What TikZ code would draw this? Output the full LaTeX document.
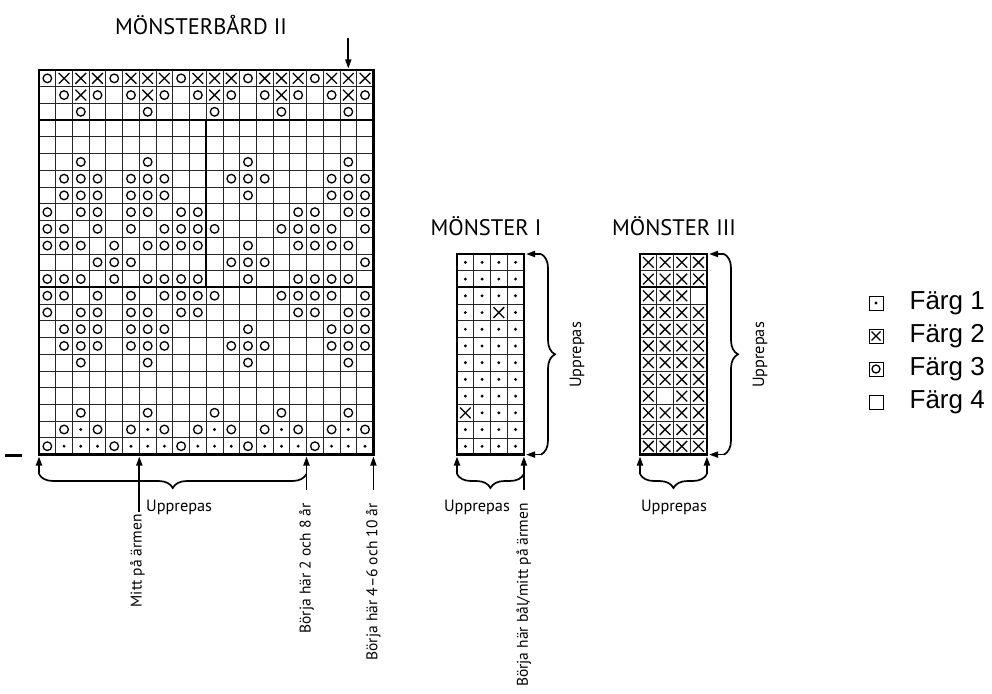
\documentclass[tikz,border=0pt]{standalone}
\usepackage{fontspec}
\setsansfont{PT Sans}
\newfontfamily\legendfont{Liberation Sans}
\usetikzlibrary{arrows.meta, positioning, decorations.pathreplacing}
\tikzset{
  every picture/.style={font=\sffamily},
  gridline/.style={line width=0.8pt, black!85},
  border/.style={line width=2.6pt},
  divider/.style={line width=1.9pt},
  arrow/.style={-{Triangle[length=9pt, width=6pt]}, line width=1.7pt},
  bracket/.style={decorate, decoration={brace, amplitude=14pt}, line width=1.7pt},
  sym/.style={line width=1.3pt},
  title/.style={font=\sffamily\fontsize{22.5}{27}\selectfont},
  note/.style={font=\sffamily\fontsize{16.3}{20}\selectfont, inner sep=0pt},
  vnote/.style={note, font=\sffamily\fontsize{15.5}{19}\selectfont, rotate=90, anchor=east},
  keybox/.style={draw, line width=0.8pt, minimum size=14pt, inner sep=0pt},
  keytext/.style={font=\legendfont\fontsize{26}{30}\selectfont, inner sep=0pt},
}
\newcommand\cellO[2]{\draw[sym] (#1-0.5,#2-0.5) circle (4.3pt);}
\newcommand\cellX[2]{\draw[sym] (#1-0.82,#2-0.82) -- (#1-0.18,#2-0.18) (#1-0.82,#2-0.18) -- (#1-0.18,#2-0.82);}
\newcommand\cellD[2]{\fill (#1-0.5,#2-0.5) circle (1.6pt);}

\begin{document}
\begin{tikzpicture}[x=1pt, y=-1pt]
  \useasboundingbox (0,0) rectangle (992,693);
  % titles
  \node[title] (tII) at (201,25) {MÖNSTERBÅRD II};
  \node[title] (tI) at (486,226) {MÖNSTER I};
  \node[title] (tIII) at (674,226) {MÖNSTER III};

  % Mönsterbård II: 20 x 23 squares
  \begin{scope}[shift={(39,70)}, x=16.72pt, y=-16.72pt]
    \foreach \c in {1,...,19} \draw[gridline] (\c,0) -- (\c,23);
    \foreach \r in {1,...,22} \draw[gridline] (0,\r) -- (20,\r);
    \draw[divider] (0,3) -- (20,3) (0,13) -- (20,13) (10,3) -- (10,13);
    \foreach \r/\cols in {1/{1,5,9,13,17}, 2/{2,4,6,8,10,12,14,16,18,20}, 3/{3,7,11,15,19},
        6/{3,7,13,19}, 7/{2,3,4,6,7,8,12,13,14,18,19,20}, 8/{2,3,4,6,7,8,13,18,19,20},
        9/{1,3,4,6,7,9,10,16,17,19,20}, 10/{1,2,4,6,8,9,10,11,15,16,17,18,20},
        11/{1,2,3,5,7,8,9,10,13,16,17,18,19}, 12/{4,5,6,12,13,14,20},
        13/{1,2,3,5,7,8,9,10,13,16,17,18,19}, 14/{1,2,4,6,8,9,10,11,15,16,17,18,20},
        15/{1,3,4,6,7,9,10,16,17,19,20}, 16/{2,3,4,6,7,8,13,18,19,20},
        17/{2,3,4,6,7,8,12,13,14,18,19,20}, 18/{3,7,13,19}, 21/{3,7,11,15,19},
        22/{2,4,6,8,10,12,14,16,18,20}, 23/{1,5,9,13,17}}
      \foreach \c in \cols {\cellO{\c}{\r}};
    \foreach \r/\cols in {1/{2,3,4,6,7,8,10,11,12,14,15,16,18,19,20}, 2/{3,7,11,15,19}}
      \foreach \c in \cols {\cellX{\c}{\r}};
    \foreach \r/\cols in {22/{3,7,11,15,19}, 23/{2,3,4,6,7,8,10,11,12,14,15,16,18,19,20}}
      \foreach \c in \cols {\cellD{\c}{\r}};
    \draw[border] (0,0) rectangle (20,23);
  \end{scope}

  % Mönster I: 4 x 12
  \begin{scope}[shift={(457,254)}, x=16.72pt, y=-16.72pt]
    \foreach \c in {1,2,3} \draw[gridline] (\c,0) -- (\c,12);
    \foreach \r in {1,...,11} \draw[gridline] (0,\r) -- (4,\r);
    \draw[divider] (0,2) -- (4,2);
    \foreach \r in {1,...,12} \foreach \c in {1,...,4} {
      \pgfmathtruncatemacro\k{\r*10+\c}
      \ifnum\k=43 \cellX{\c}{\r}\else\ifnum\k=101 \cellX{\c}{\r}\else\cellD{\c}{\r}\fi\fi
    }
    \draw[border] (0,0) rectangle (4,12);
  \end{scope}

  % Mönster III: 4 x 12
  \begin{scope}[shift={(640,254)}, x=16.72pt, y=-16.72pt]
    \foreach \c in {1,2,3} \draw[gridline] (\c,0) -- (\c,12);
    \foreach \r in {1,...,11} \draw[gridline] (0,\r) -- (4,\r);
    \draw[divider] (0,2) -- (4,2);
    \foreach \r in {1,...,12} \foreach \c in {1,...,4} {
      \pgfmathtruncatemacro\k{\r*10+\c}
      \ifnum\k=34 \else\ifnum\k=92 \else\cellX{\c}{\r}\fi\fi
    }
    \draw[border] (0,0) rectangle (4,12);
  \end{scope}

  % arrows under Mönsterbård II
  \coordinate (top19) at (348.3,38);
  \coordinate (top19e) at (348.3,68.5);
  \draw[arrow] (top19) -- (top19e);
  \draw[line width=3pt] (5,455) coordinate (dashA) -- (22,455) coordinate (dashB);
  \coordinate (a0) at (39,474);      \coordinate (a0e) at (39,456.5);
  \coordinate (a6) at (139.3,512);   \coordinate (a6e) at (139.3,456.5);
  \coordinate (a16) at (306.5,490);  \coordinate (a16e) at (306.5,456.5);
  \coordinate (a20) at (373.4,490);  \coordinate (a20e) at (373.4,456.5);
  \draw[arrow] (a0) -- (a0e);
  \draw[arrow] (a6) -- (a6e);
  \draw[arrow] (a16) -- (a16e);
  \draw[arrow] (a20) -- (a20e);
  \draw[bracket, decoration={mirror}] (a0) -- (306.5,474);
  \node[note, anchor=west] (repII) at (146,507) {Upprepas};
  \node[vnote] (mitt) at (137.5,514) {Mitt på ärmen};
  \node[vnote] (start28) at (306.5,503) {Börja här 2 och 8 år};
  \node[vnote] (start410) at (373.4,503) {Börja här 4–6 och 10 år};

  % arrows round Mönster I
  \coordinate (i0) at (457,474);      \coordinate (i0e) at (457,456.5);
  \coordinate (i4) at (523.9,490);    \coordinate (i4e) at (523.9,456.5);
  \coordinate (iT) at (541,254);      \coordinate (iTe) at (526,254);
  \coordinate (iB) at (541,454.6);    \coordinate (iBe) at (526,454.6);
  \draw[arrow] (i0) -- (i0e);
  \draw[arrow] (i4) -- (i4e);
  \draw[arrow] (iT) -- (iTe);
  \draw[arrow] (iB) -- (iBe);
  \draw[bracket, decoration={mirror}] (i0) -- (523.9,474);
  \draw[bracket] (iT) -- (iB);
  \node[note] (repIa) at (477,507) {Upprepas};
  \node[note, rotate=90] (repIb) at (577,355) {Upprepas};
  \node[vnote] (startI) at (523.9,503) {Börja här bål/mitt på ärmen};

  % arrows round Mönster III
  \coordinate (k0) at (640,474);      \coordinate (k0e) at (640,456.5);
  \coordinate (k4) at (706.9,474);    \coordinate (k4e) at (706.9,456.5);
  \coordinate (kT) at (724,254);      \coordinate (kTe) at (709,254);
  \coordinate (kB) at (724,454.6);    \coordinate (kBe) at (709,454.6);
  \draw[arrow] (k0) -- (k0e);
  \draw[arrow] (k4) -- (k4e);
  \draw[arrow] (kT) -- (kTe);
  \draw[arrow] (kB) -- (kBe);
  \draw[bracket, decoration={mirror}] (k0) -- (k4);
  \draw[bracket] (kT) -- (kB);
  \node[note] (repIIIa) at (674,507) {Upprepas};
  \node[note, rotate=90] (repIIIb) at (760,355) {Upprepas};

  % legend
  \node[keybox] (k1) at (876,303) {};
  \node[keybox] (k2) at (876,336) {};
  \node[keybox] (k3) at (876,369) {};
  \node[keybox] (k4) at (876,402) {};
  \fill (k1.center) circle (1.6pt);
  \draw[sym] ([shift={(-4.5,-4.5)}]k2.center) -- ([shift={(4.5,4.5)}]k2.center)
             ([shift={(-4.5,4.5)}]k2.center) -- ([shift={(4.5,-4.5)}]k2.center);
  \draw[sym] (k3.center) circle (4pt);
  \node[keytext, right=26pt of k1] (f1) {Färg 1};
  \node[keytext, right=26pt of k2] (f2) {Färg 2};
  \node[keytext, right=26pt of k3] (f3) {Färg 3};
  \node[keytext, right=26pt of k4] (f4) {Färg 4};
\end{tikzpicture}
\end{document}
